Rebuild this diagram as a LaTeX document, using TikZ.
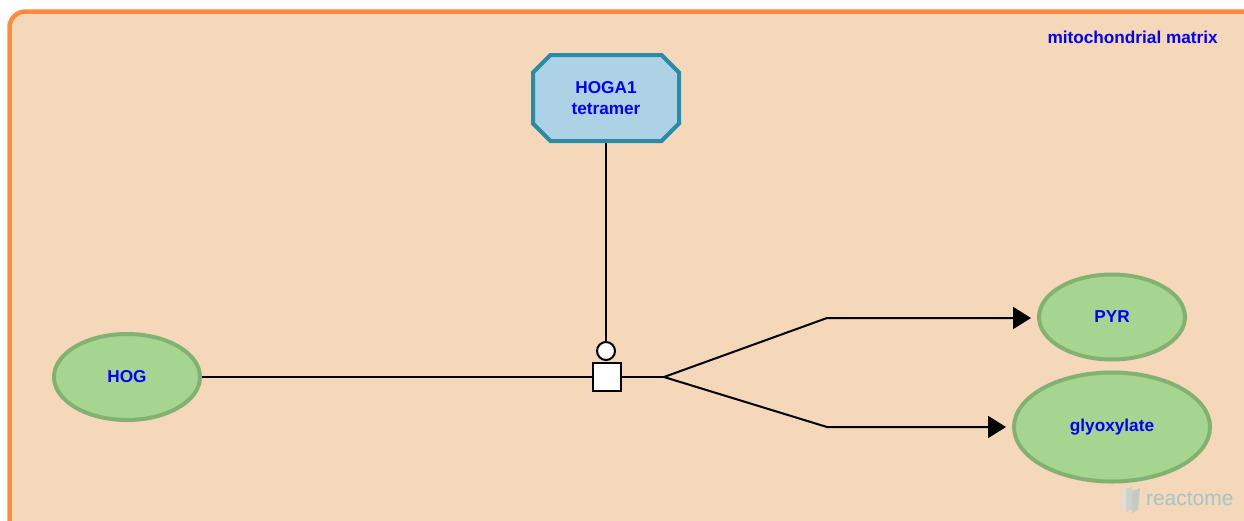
\documentclass[tikz,border=0pt]{standalone}
\usepackage{fontspec}
\setmainfont{Liberation Sans}
\usetikzlibrary{shapes.geometric,shapes.misc,arrows.meta}

\definecolor{matrixfill}{HTML}{F5D7BA}
\definecolor{matrixline}{HTML}{FF8C3C}
\definecolor{entityfill}{HTML}{A6D592}
\definecolor{entityline}{HTML}{82B271}
\definecolor{complexfill}{HTML}{ADD2E5}
\definecolor{complexline}{HTML}{2A8BA7}
\definecolor{logotext}{HTML}{A3C6CB}

\begin{document}
\begin{tikzpicture}[x=1pt, y=-1pt, line width=2pt,
  label_font/.style={text=blue, font=\bfseries\fontsize{17.2}{21}\selectfont},
  entity/.style={ellipse, draw=entityline, fill=entityfill, line width=4pt, inner sep=0pt, label_font},
  complex/.style={chamfered rectangle, chamfered rectangle xsep=14pt, draw=complexline, fill=complexfill,
    line width=4pt, inner sep=0pt, minimum width=146pt, minimum height=86pt, align=center, label_font},
  reaction/.style={rectangle, draw=black, fill=white, minimum size=28pt, inner sep=0pt},
  catalyst/.style={circle, draw=black, fill=white, minimum size=18pt, inner sep=0pt},
  edge_style/.style={draw=black, line width=2pt},
  product/.style={edge_style, -{Triangle[length=18pt,width=22pt]}, shorten >=6pt}]
  \useasboundingbox (0,0) rectangle (1244,520);
  \fill[white] (0,0) rectangle (1244,520);
  % compartment
  \draw[draw=matrixline, fill=matrixfill, line width=4.5pt, rounded corners=16pt] (9.5,11.5) rectangle (1280,560);
  \node[label_font, anchor=base east] (matrix) at (1222,43) {mitochondrial matrix};
  % entities
  \node[entity, minimum width=146pt, minimum height=86pt] (HOG) at (127,377) {HOG};
  \node[entity, minimum width=146pt, minimum height=85pt] (PYR) at (1112,317) {PYR};
  \node[entity, minimum width=196pt, minimum height=109pt] (GLY) at (1112,427) {glyoxylate};
  \node[complex] (HOGA) at (606,98) {HOGA1\\tetramer};
  % reaction
  \node[reaction] (R) at (607,377) {};
  \node[catalyst] (cat) at (606,351) {};
  \coordinate (split) at (664,377);
  \coordinate (upper) at (827,318);
  \coordinate (lower) at (827,427);
  \draw[edge_style] (HOG) -- (R);
  \draw[edge_style] (R) -- (split);
  \draw[edge_style] (HOGA) -- (cat);
  \draw[product] (split) -- (upper) -- (PYR.west |- upper);
  \draw[product] (split) -- (lower) -- (GLY.west |- lower);
  % watermark
  \begin{scope}[line width=0pt, opacity=0.6]
    \fill[gray!25] (1120,490) -- (1126,487) -- (1126,508) -- (1120,511) -- cycle;
    \fill[logotext!80] (1126,489) -- (1132,486) -- (1132,509) -- (1126,512) -- cycle;
    \fill[logotext] (1132,491) -- (1140,488) -- (1138,510) -- (1132,513) -- cycle;
  \end{scope}
  \node[anchor=base west, inner sep=0pt, text=logotext, font=\fontsize{21}{24}\selectfont] (logo) at (1145,505) {reactome};
\end{tikzpicture}
\end{document}
